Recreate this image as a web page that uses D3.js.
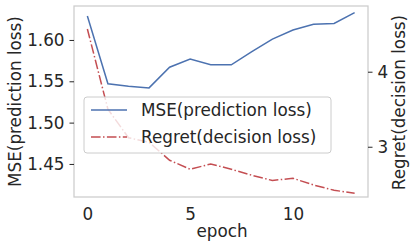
<!DOCTYPE html>
<html>
<head>
<meta charset="utf-8">
<script src="https://cdn.jsdelivr.net/npm/d3@7"></script>
<style>
  body { margin: 0; background: #fff; }
  text { font-family: "DejaVu Sans", sans-serif; fill: #262626; }
</style>
</head>
<body>
<div id="chart"></div>
<script>
const epochs = [0, 1, 2, 3, 4, 5, 6, 7, 8, 9, 10, 11, 12, 13];
const mseValues = [1.629, 1.547, 1.544, 1.542, 1.567, 1.577, 1.570, 1.570, 1.586, 1.601, 1.612, 1.619, 1.620, 1.633];
const regretValues = [4.57, 3.50, 3.12, 3.06, 2.82, 2.70, 2.77, 2.70, 2.62, 2.55, 2.58, 2.49, 2.42, 2.38];
const xTicks = [0, 5, 10];
const mseTicks = [1.45, 1.50, 1.55, 1.60];
const regretTicks = [3, 4];
const seriesNames = ['MSE(prediction loss)', 'Regret(decision loss)'];

const W = 415, H = 250;
const margin = {top: 6, right: 47, bottom: 53, left: 74};
const width = W - margin.left - margin.right;
const height = H - margin.top - margin.bottom;
const blue = '#4c72b0', red = '#c44e52', spine = '#cccccc';
const fs = 16.8;

const svg = d3.select('#chart')
    .append('svg')
    .attr('width', W)
    .attr('height', H)
    .append('g')
    .attr('transform', `translate(${margin.left},${margin.top})`);

const x = d3.scaleLinear().domain([-0.65, 13.65]).range([0, width]);
const yL = d3.scaleLinear().domain([1.410, 1.6411]).range([height, 0]);
const yR = d3.scaleLinear().domain([2.33, 4.876]).range([height, 0]);

const mseData = epochs.map((e, i) => ({e, v: mseValues[i]}));
const regretData = epochs.map((e, i) => ({e, v: regretValues[i]}));

// Lines
svg.append('path')
    .datum(mseData)
    .attr('fill', 'none')
    .attr('stroke', blue)
    .attr('stroke-width', 1.5)
    .attr('d', d3.line().x(d => x(d.e)).y(d => yL(d.v)));

svg.append('path')
    .datum(regretData)
    .attr('fill', 'none')
    .attr('stroke', red)
    .attr('stroke-width', 1.5)
    .attr('stroke-dasharray', '9.6,2.4,1.5,2.4')
    .attr('d', d3.line().x(d => x(d.e)).y(d => yR(d.v)));

// Spines
svg.append('rect')
    .attr('width', width)
    .attr('height', height)
    .attr('fill', 'none')
    .attr('stroke', spine)
    .attr('stroke-width', 1.25);

// Axes
const xAxis = svg.append('g')
    .attr('transform', `translate(0,${height})`)
    .call(d3.axisBottom(x).tickValues(xTicks).tickSize(0).tickPadding(11));

const lAxis = svg.append('g')
    .call(d3.axisLeft(yL).tickValues(mseTicks).tickFormat(d3.format('.2f')).tickSize(4.5).tickPadding(5));

const rAxis = svg.append('g')
    .attr('transform', `translate(${width},0)`)
    .call(d3.axisRight(yR).tickValues(regretTicks).tickFormat(d3.format('d')).tickSize(4.5).tickPadding(5));

[xAxis, lAxis, rAxis].forEach(a => {
    a.select('.domain').remove();
    a.selectAll('line').attr('stroke', '#262626').attr('stroke-width', 1);
    a.selectAll('text').style('font-size', fs + 'px').attr('fill', '#262626');
});

// Axis labels
svg.append('text')
    .attr('x', width / 2 + 1)
    .attr('y', height + 40)
    .attr('text-anchor', 'middle')
    .style('font-size', fs + 'px')
    .text('epoch');

svg.append('text')
    .attr('transform', `translate(${21 - margin.left},${height / 2}) rotate(-90)`)
    .attr('text-anchor', 'middle')
    .style('font-size', fs + 'px')
    .text(seriesNames[0]);

svg.append('text')
    .attr('transform', `translate(${405 - margin.left},${height / 2 + 1}) rotate(-90)`)
    .attr('text-anchor', 'middle')
    .style('font-size', fs + 'px')
    .text(seriesNames[1]);

// Legend
const lg = svg.append('g').attr('transform', `translate(${84 - margin.left},${97 - margin.top})`);
lg.append('rect')
    .attr('width', 247)
    .attr('height', 56)
    .attr('rx', 3)
    .attr('fill', 'white')
    .attr('fill-opacity', 0.8)
    .attr('stroke', spine)
    .attr('stroke-width', 1);

const items = [
    {name: seriesNames[0], color: blue, dash: null},
    {name: seriesNames[1], color: red, dash: '9.6,2.4,1.5,2.4'}
];
items.forEach((it, i) => {
    const cy = 13 + i * 27;
    lg.append('line')
        .attr('x1', 7).attr('x2', 43)
        .attr('y1', cy).attr('y2', cy)
        .attr('stroke', it.color)
        .attr('stroke-width', 1.5)
        .attr('stroke-dasharray', it.dash);
    lg.append('text')
        .attr('x', 57)
        .attr('y', cy + 6)
        .style('font-size', fs + 'px')
        .text(it.name);
});
</script>
</body>
</html>
